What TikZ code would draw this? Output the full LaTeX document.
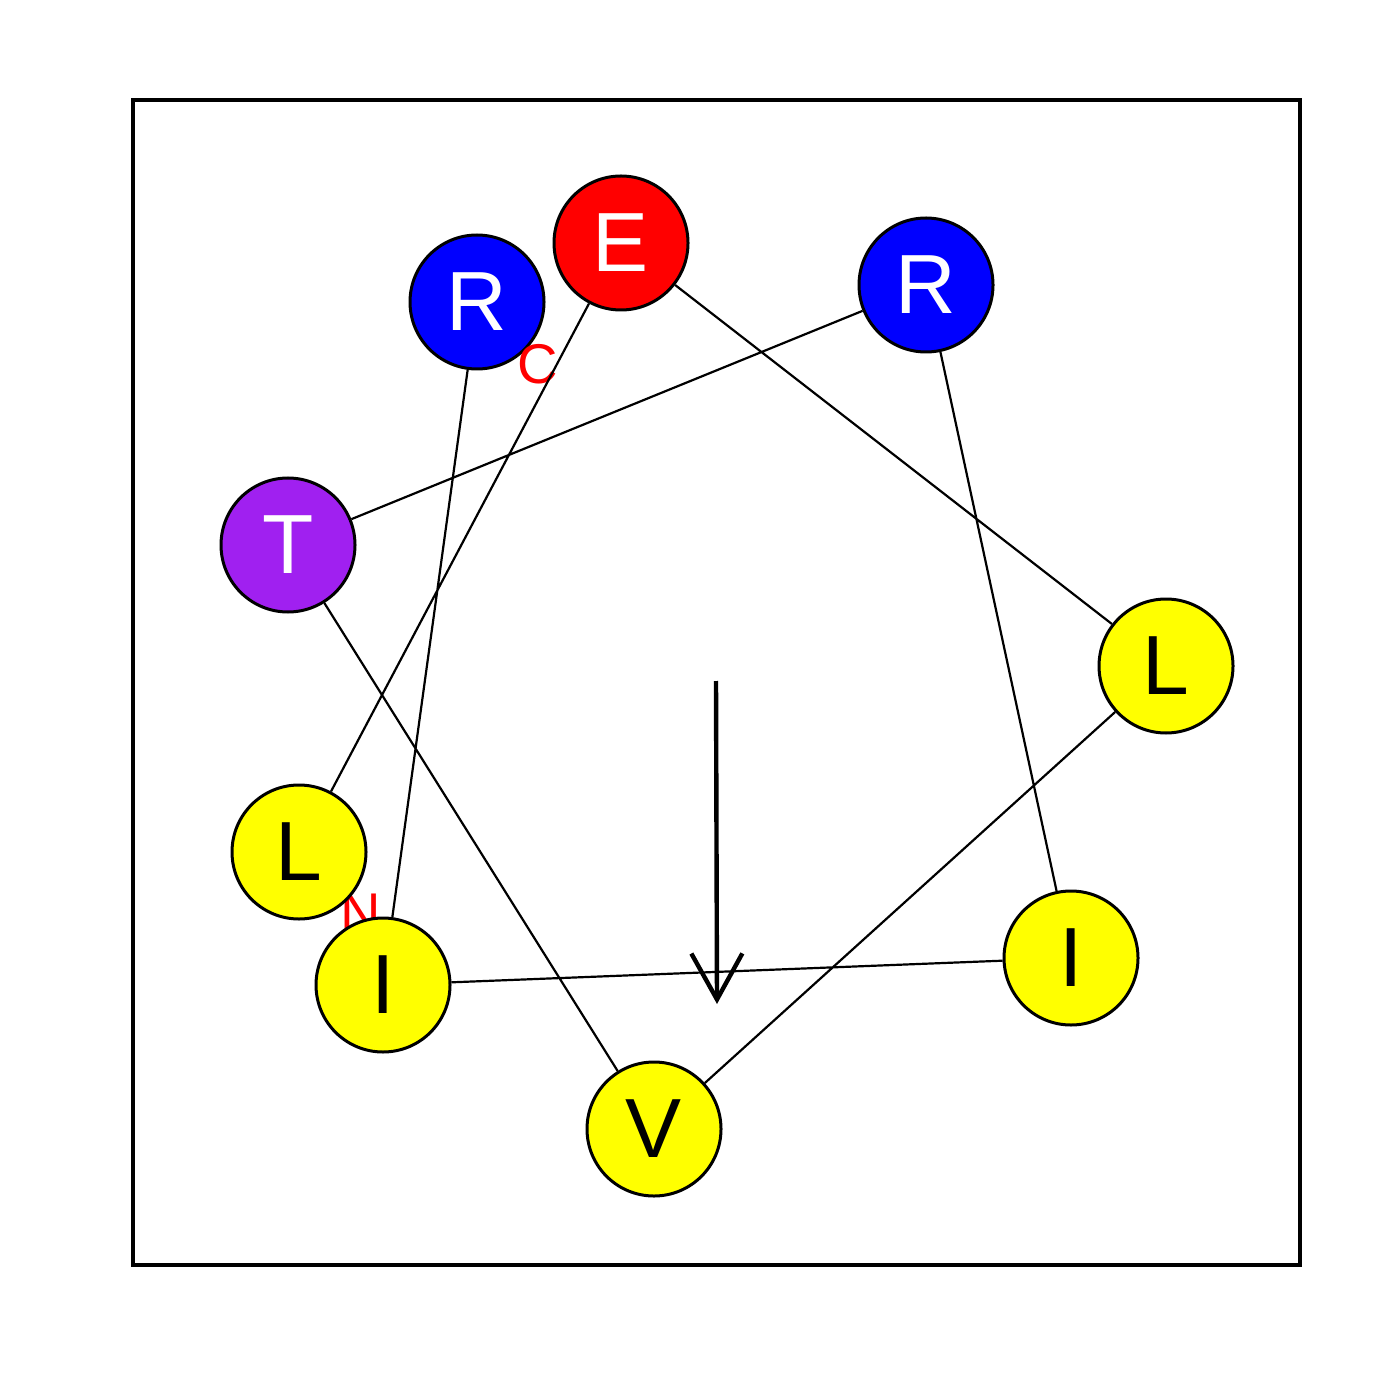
\documentclass[tikz,border=0pt]{standalone}
\usepackage{fontspec}
\setmainfont{Liberation Sans}
\usetikzlibrary{arrows.meta}
\definecolor{rpurple}{RGB}{160,32,240}
\definecolor{ryellow}{RGB}{255,255,0}
\definecolor{rblue}{RGB}{0,0,255}
\definecolor{rred}{RGB}{255,0,0}

\tikzset{
	hwheel/.style={
			x=0.5pt, y=-0.5pt,
			every node/.style={circle, draw, line width=1.5pt, minimum size=67pt, inner sep=0pt, font=\fontsize{42}{42}\selectfont},
			polar/.style={text=white},
			apolar/.style={fill=ryellow, text=black},
			term/.style={draw=none, minimum size=0pt, text=rred, font=\fontsize{28}{28}\selectfont},
			bond/.style={line width=1.1pt},
			moment/.style={line width=2.2pt, -{Straight Barb[length=23pt, width=25.5pt]}},
		}
}

\begin{document}
\begin{tikzpicture}[hwheel]
		\useasboundingbox (0,0) rectangle (1400,1400);
		\draw[line width=2pt] (133,100) rectangle (1300,1265);
		\node[term] (nterm) at (361,913) {N};
		\node[polar, fill=rblue] (r1) at (477,302) {R};
		\node[polar, fill=rred] (e1) at (621,243) {E};
		\node[polar, fill=rblue] (r2) at (926,285) {R};
		\node[polar, fill=rpurple] (t1) at (288,545) {T};
		\node[apolar] (l1) at (1166,666) {L};
		\node[apolar] (l2) at (299,852) {L};
		\node[apolar] (i1) at (383,985) {I};
		\node[apolar] (i2) at (1071,958) {I};
		\node[apolar] (v1) at (654,1129) {V};
		\node[term] (cterm) at (538,364) {C};
		% helix backbone
		\draw[bond] (l2) -- (e1) -- (l1) -- (v1) -- (t1) -- (r2) -- (i2) -- (i1) -- (r1);
		% hydrophobic moment
		\coordinate (mtail) at (716,681);
		\coordinate (mhead) at (717,1004);
		\draw[moment] (mtail) -- (mhead);
	\end{tikzpicture}
\end{document}
